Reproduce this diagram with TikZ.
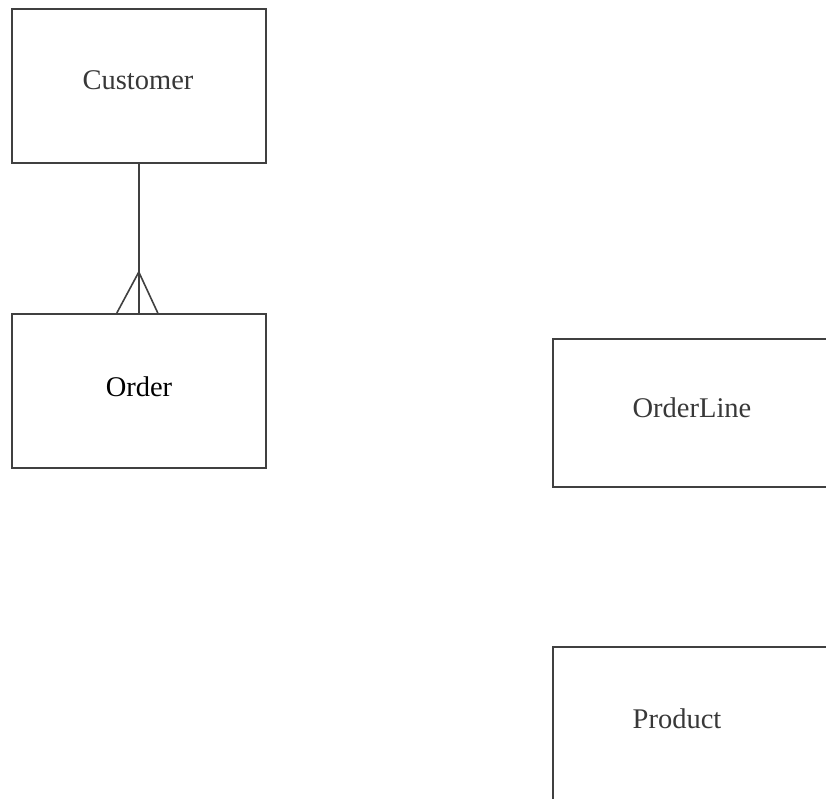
\documentclass[tikz,border=0pt]{standalone}
\usepackage{fontspec}
\setmainfont{Liberation Serif}
\usetikzlibrary{calc}
\begin{document}
\begin{tikzpicture}[x=1pt,y=-1pt,
  ent/.style={draw=black!75, line width=1.6pt, inner sep=0pt, anchor=north west},
  lbl/.style={font=\fontsize{28.5}{32}\selectfont, text=black!78, inner sep=0pt},
  rel/.style={draw=black!75, line width=1.6pt}]
\useasboundingbox (0,0) rectangle (826,798);
\clip (0,0) rectangle (826,798);
\node[ent, minimum width=254pt, minimum height=154pt] (customer) at (11,8) {};
\node[ent, minimum width=254pt, minimum height=154pt] (order) at (11,313) {};
\node[ent, minimum width=300pt, minimum height=148pt] (orderline) at (552,338) {};
\node[ent, minimum width=300pt, minimum height=200pt] (product) at (552,646) {};
\node[lbl] (tcustomer) at (138,80) {Customer};
\node[lbl, text=black] (torder) at (139,387) {Order};
\node[lbl] (torderline) at (692,408) {OrderLine};
\node[lbl] (tproduct) at (677,719) {Product};
\draw[rel] (customer.south) -- (order.north);
\coordinate (apex) at ($(order.north)+(0,-41)$);
\coordinate (footl) at ($(order.north)+(-22,0)$);
\coordinate (footr) at ($(order.north)+(19,0)$);
\draw[rel] (footl) -- (apex) -- (footr);
\end{tikzpicture}
\end{document}
